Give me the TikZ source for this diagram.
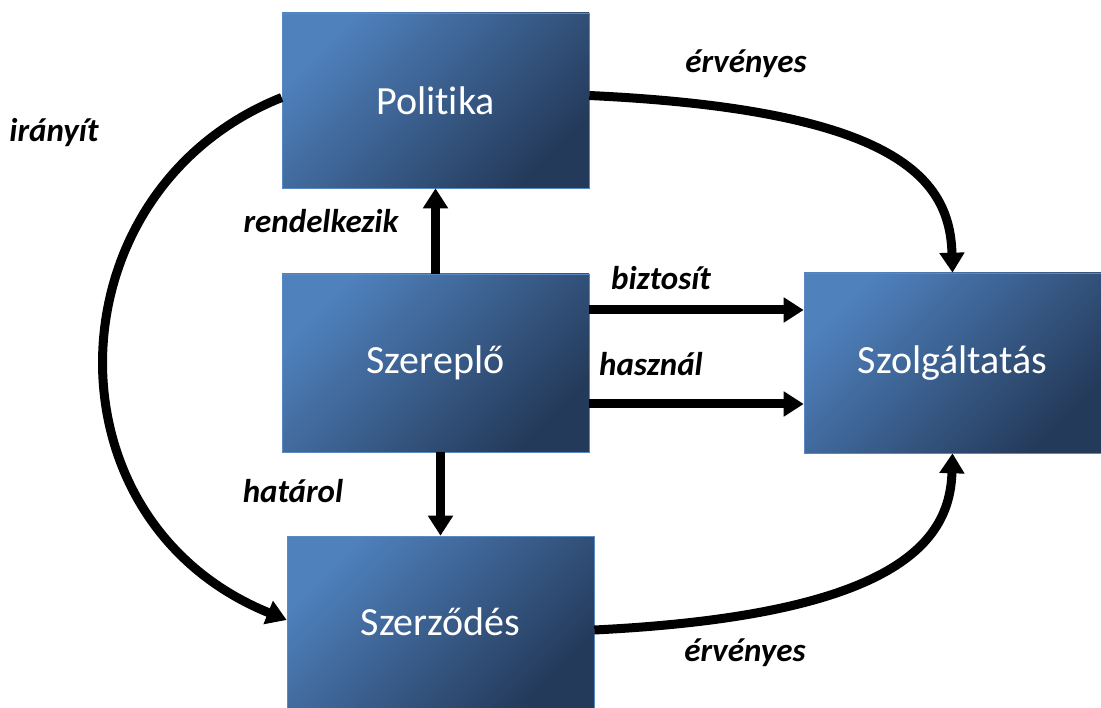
\documentclass[tikz,border=0pt]{standalone}
\usepackage{fontspec}
\setmainfont{Carlito}[Ligatures=NoCommon]
\usetikzlibrary{arrows.meta}
\definecolor{boxtop}{HTML}{4F81BD}
\definecolor{boxbot}{HTML}{243A5A}
\definecolor{boxline}{HTML}{5A88C0}
\begin{document}
\begin{tikzpicture}[x=1pt,y=-1pt,
  box/.style={rectangle, inner sep=0pt, draw=boxline, line width=0.6pt,
    top color=boxtop, bottom color=boxbot, shading angle=45,
    text=white, font=\fontsize{40}{46}\selectfont},
  arr/.style={line width=9pt, draw=black, -{Triangle[length=20pt,width=24pt]}},
  lbl/.style={font=\fontsize{33}{38}\selectfont\bfseries\itshape, text=black, inner sep=0pt}]
\useasboundingbox (0,0) rectangle (1101,708);
\node[box, minimum width=307pt, minimum height=175pt] (pol) at (435.5,100.5) {Politika};
\node[box, minimum width=307pt, minimum height=178pt] (sz) at (435.5,363) {Szereplő};
\node[box, minimum width=297pt, minimum height=180pt] (szol) at (952.5,363) {Szolgáltatás};
\node[box, minimum width=307pt, minimum height=172pt] (szer) at (440.5,622) {Szerződés};

\draw[arr] ([yshift=5pt]pol.east) .. controls (900,110) and (950,180) .. (szol.north);
\draw[arr] ([yshift=-8pt]szer.east) .. controls (900,615) and (950,540) .. (szol.south);
\draw[arr] ([yshift=3pt]pol.west) .. controls (50,190) and (40,520) .. ([yshift=2pt]szer.west);
\draw[arr] (sz.north) -- (pol.south);
\draw[arr] (szer.north |- sz.south) -- (szer.north);
\draw[arr] ([yshift=53pt]sz.east) -- ([yshift=53pt]szol.west);
\draw[arr] ([yshift=-41pt]sz.east) -- ([yshift=-41pt]szol.west);

\node[lbl] (l1) at (746,64) {érvényes};
\node[lbl] (l2) at (54,133) {irányít};
\node[lbl] (l3) at (321,221) {rendelkezik};
\node[lbl] (l4) at (661,278) {biztosít};
\node[lbl] (l5) at (651,364) {használ};
\node[lbl] (l6) at (293,491) {határol};
\node[lbl] (l7) at (745,653) {érvényes};
\end{tikzpicture}
\end{document}
